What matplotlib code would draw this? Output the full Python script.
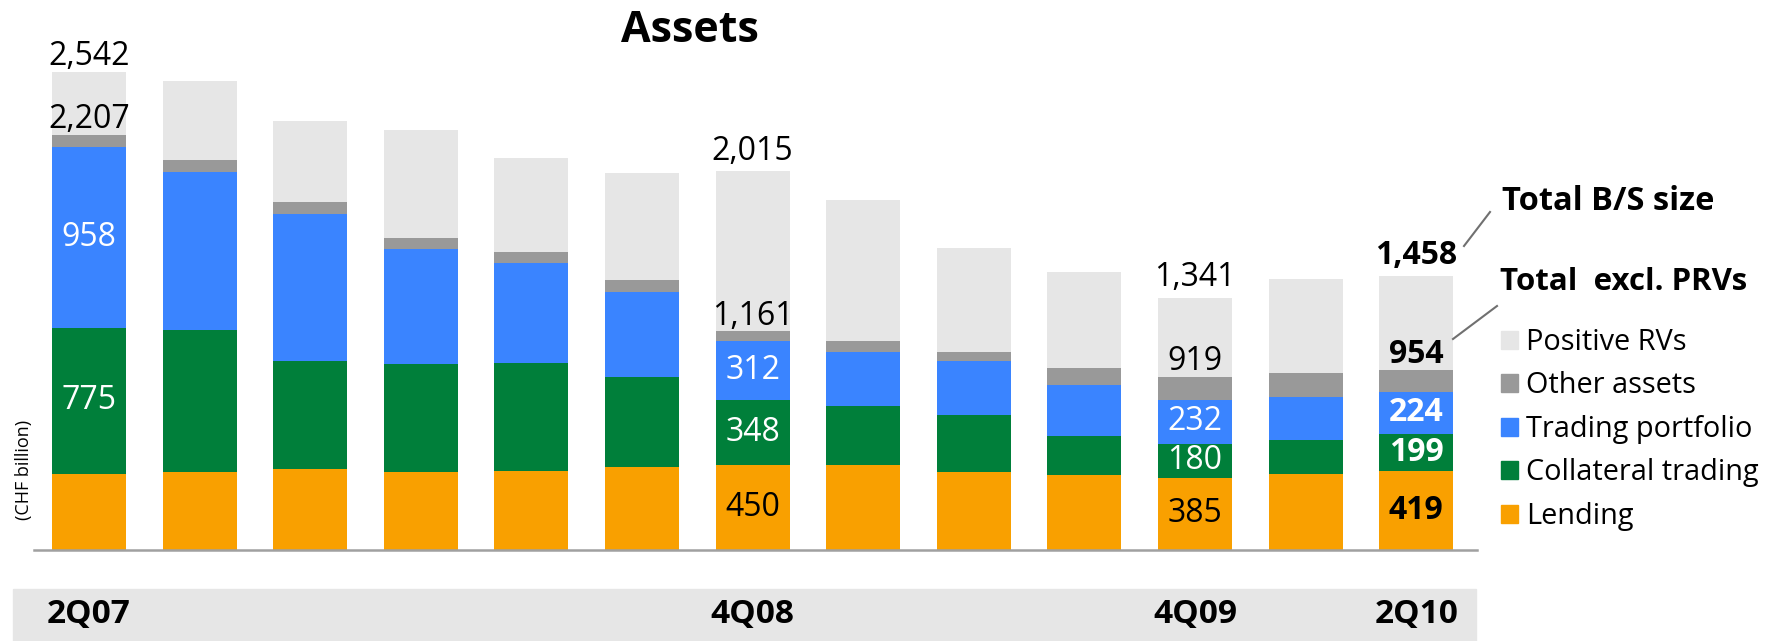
import matplotlib.pyplot as plt
from matplotlib.patches import Patch, Rectangle

plt.rcParams['font.family'] = ['Open Sans', 'DejaVu Sans']

# quarters 2Q07 .. 2Q10, CHF billion
quarters = ['2Q07', '3Q07', '4Q07', '1Q08', '2Q08', '3Q08', '4Q08',
            '1Q09', '2Q09', '3Q09', '4Q09', '1Q10', '2Q10']
lending = [406, 417, 428, 417, 422, 443, 450, 450, 417, 396, 385, 402, 419]
collateral = [775, 750, 578, 569, 569, 474, 348, 313, 298, 212, 180, 180, 199]
trading = [958, 839, 778, 615, 536, 456, 312, 291, 287, 266, 232, 229, 224]
other = [68, 65, 63, 59, 55, 59, 51, 54, 52, 95, 122, 128, 112]
positive_rv = [335, 419, 430, 574, 500, 569, 854, 754, 548, 506, 422, 499, 504]

shown_ticks = ['2Q07', '4Q08', '4Q09', '2Q10']
labelled = [0, 6, 10, 12]   # bars carrying value labels

series = [
    ('Lending', lending, '#F9A000'),
    ('Collateral trading', collateral, '#007F3A'),
    ('Trading portfolio', trading, '#3A84FF'),
    ('Other assets', other, '#999999'),
    ('Positive RVs', positive_rv, '#E6E6E6'),
]

W, H = 1785, 641
fig = plt.figure(figsize=(W / 100, H / 100), dpi=100)
ax = fig.add_axes([34 / W, 91 / H, 1443 / W, 550 / H])

x = list(range(len(quarters)))
bottom = [0] * len(quarters)
segs = {}
for name, vals, color in series:
    ax.bar(x, vals, width=0.67, bottom=bottom, color=color, linewidth=0)
    segs[name] = (list(bottom), vals)
    bottom = [b + v for b, v in zip(bottom, vals)]
totals = bottom
excl = [t - p for t, p in zip(totals, positive_rv)]

ax.set_xlim(-0.497, 12.55)
ax.set_ylim(0, 2922)
for s in ['top', 'right', 'left']:
    ax.spines[s].set_visible(False)
ax.spines['bottom'].set_color('#A0A0A0')
ax.spines['bottom'].set_linewidth(1.8)
ax.set_xticks([])
ax.set_yticks([])

fs = 23
for i in labelled:
    bold = 'bold' if i == len(quarters) - 1 else 'normal'
    ax.annotate(f'{totals[i]:,}', (i, totals[i]), xytext=(0, 5 if i == 0 else 8),
                textcoords='offset points', ha='center', va='baseline',
                fontsize=fs, fontweight=bold)
    ax.annotate(f'{excl[i]:,}', (i, excl[i]), xytext=(0, 5), textcoords='offset points',
                ha='center', va='baseline', fontsize=fs, fontweight=bold)
    for name, col in [('Trading portfolio', 'white'), ('Collateral trading', 'white'),
                      ('Lending', 'black')]:
        if i == 0 and name == 'Lending':
            continue
        b, v = segs[name]
        ax.text(i, b[i] + v[i] / 2, f'{v[i]}', ha='center', va='center',
                fontsize=fs, color=col, fontweight=bold)

# grey band with the quarter labels
fig.patches.append(Rectangle((13 / W, 0), (1476 - 13) / W, 52 / H,
                             transform=fig.transFigure, color='#E6E6E6', zorder=0))
for q in shown_ticks:
    i = quarters.index(q)
    xf = (34 + (i + 0.497) * 110.6) / W
    fig.text(xf, 26 / H, q, ha='center', va='center', fontsize=24, fontweight='bold')

fig.text(690 / W, 1 - 31 / H, 'Assets', ha='center', va='center',
         fontsize=31, fontweight='bold')
fig.text(24 / W, 1 - 470 / H, '(CHF billion)', rotation=90, ha='center', va='center',
         fontsize=13)

# callouts for the two totals
fig.text(1502 / W, 1 - 202 / H, 'Total B/S size', ha='left', va='center',
         fontsize=23.5, fontweight='bold')
fig.text(1500 / W, 1 - 282 / H, 'Total  excl. PRVs', ha='left', va='center',
         fontsize=22.5, fontweight='bold')
fig.lines.append(plt.Line2D([1464 / W, 1490 / W], [1 - 246 / H, 1 - 212 / H],
                            transform=fig.transFigure, color='#707070', lw=1.5))
fig.lines.append(plt.Line2D([1453 / W, 1497 / W], [1 - 339 / H, 1 - 306 / H],
                            transform=fig.transFigure, color='#707070', lw=1.5))

handles = [Patch(color=c, label=n) for n, v, c in reversed(series)]
fig.legend(handles=handles, loc='upper left', bbox_to_anchor=(1501 / W, 1 - 328 / H),
           frameon=False, fontsize=20.8, handlelength=0.58, handleheight=0.58,
           handletextpad=0.3, labelspacing=0.5, borderpad=0, borderaxespad=0)

fig.savefig('out.png', dpi=100)
